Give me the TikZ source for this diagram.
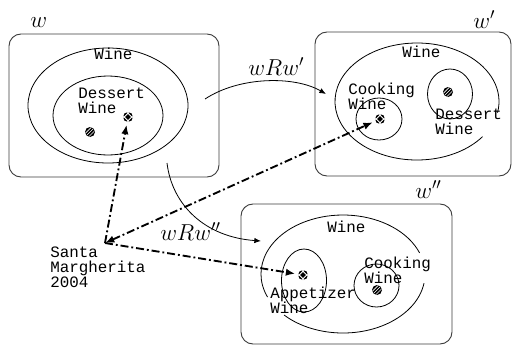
\documentclass[tikz,border=0pt]{standalone}
\usepackage{fontspec}
\setmonofont{Liberation Mono}
\usepackage{tikz}
\usetikzlibrary{arrows.meta,positioning,shapes.geometric,fit}
\definecolor{boxline}{RGB}{60,60,60}
\tikzset{
  world/.style ={draw=boxline, rounded corners=9pt, line width=0.7pt, inner sep=0pt},
  region/.style={draw, ellipse, line width=0.6pt, inner sep=0pt},
  item/.style  ={circle, fill=black, inner sep=0pt, minimum size=7.5pt},
  hatch/.style ={item, path picture={\foreach \a/\b in {-5.3/-2.7,-4/-4,-2.7/-5.3}
                   \draw[white, line width=0.5pt] ([shift={(\a pt,\b pt)}]path picture bounding box.center) -- ++(8pt,8pt);}},
  cross/.style ={item, path picture={\foreach \a/\b in {-5.4/-2.6,-2.6/-5.4}
                   \draw[white, line width=0.6pt] ([shift={(\a pt,\b pt)}]path picture bounding box.center) -- ++(8pt,8pt);
                   \foreach \a/\b in {-5.4/2.6,-2.6/5.4}
                   \draw[white, line width=0.6pt] ([shift={(\a pt,\b pt)}]path picture bounding box.center) -- ++(8pt,-8pt);}},
  lbl/.style   ={font=\fontsize{11.9}{11.25}\selectfont\ttfamily, inner sep=0pt, align=left},
  wname/.style ={font=\LARGE, inner sep=0pt, anchor=base west},
  rel/.style   ={-{Latex[length=5pt, width=4pt]}, line width=0.6pt},
  refer/.style ={-{Latex[length=7pt, width=5.5pt]}, line width=1.4pt, shorten >=2pt,
                 dash pattern=on 6pt off 2.2pt on 1.4pt off 2.2pt}
}

\begin{document}
\begin{tikzpicture}[x=0.75pt, y=-0.75pt]
  \useasboundingbox (0,0) rectangle (513,347);
  \node[world, fit={(9,34) (219,177)}] (w0) {};
  \node[world, fit={(315,32) (511,176)}] (w1) {};
  \node[world, fit={(241,204) (452,344)}] (w2) {};
  \node[wname] (lw0) at (30,27) {$w$};
  \node[wname] (lw1) at (473,28) {$w'$};
  \node[wname] (lw2) at (415,198) {$w''$};

  \node[region, minimum width=120pt, minimum height=86.25pt] (wine0) at (108,105.5) {};
  \node[region, minimum width=82.5pt, minimum height=59.25pt] (dess0) at (108,115.5) {};
  \node[lbl, anchor=base west] (twine0) at (94,59) {Wine};
  \node[lbl, anchor=north west] (tdess0) at (78,88) {Dessert\\Wine};
  \node[hatch] (h0) at (90,132) {};
  \node[cross] (c0) at (128,117) {};

  \coordinate (o1) at (417,101.5);
  \draw[line width=0.6pt] (o1) ++(37:82 and 58.5) arc[start angle=37, end angle=371, x radius=82, y radius=58.5];
  \node[region, minimum width=34.5pt, minimum height=31.5pt] (cook1) at (379,119) {};
  \node[region, minimum width=33.75pt, minimum height=37.5pt] (dess1) at (450,94) {};
  \node[lbl, anchor=base west] (twine1) at (402,57) {Wine};
  \node[lbl, anchor=north west] (tcook1) at (348,83) {Cooking\\Wine};
  \node[lbl, anchor=north west] (tdess1) at (435,109) {Dessert\\Wine};
  \node[cross] (c1) at (380,119) {};
  \node[hatch] (h1) at (448,92) {};

  \coordinate (o2) at (343,274);
  \draw[line width=0.6pt] (o2) ++(9:82 and 59) arc[start angle=9, end angle=136, x radius=82, y radius=59];
  \draw[line width=0.6pt] (o2) ++(157:82 and 59) arc[start angle=157, end angle=339, x radius=82, y radius=59];
  \node[region, minimum width=33.75pt, minimum height=47.25pt] (app2) at (304,280.5) {};
  \node[region, minimum width=33.75pt, minimum height=32.25pt] (cook2) at (376.5,285.5) {};
  \node[lbl, anchor=base west] (twine2) at (327,232) {Wine};
  \node[lbl, anchor=north west] (tcook2) at (364,257) {Cooking\\Wine};
  \node[lbl, anchor=north west] (tapp2) at (270,287) {Appetizer\\Wine};
  \node[cross] (c2) at (303,275) {};
  \node[hatch] (h2) at (377,290) {};

  \coordinate (r1a) at (205,99);
  \coordinate (r1b) at (326,94);
  \draw[rel] (r1a) .. controls (240,76) and (295,76) .. (r1b);
  \node[wname] (lr1) at (248,75) {$wRw'$};
  \coordinate (r2a) at (167,163);
  \coordinate (r2b) at (261,241);
  \draw[rel] (r2a) .. controls (172,205) and (205,237) .. (r2b);
  \node[wname] (lr2) at (160,240) {$wRw''$};

  \coordinate (sm) at (105,243);
  \node[lbl, anchor=north west] (tsm) at (50,247) {Santa\\Margherita\\2004};
  \draw[refer] (sm) -- (c0);
  \draw[refer, {Latex[length=7pt, width=5.5pt]}-{Latex[length=7pt, width=5.5pt]}] (sm) -- (c1);
  \draw[refer] (sm) -- (c2);
\end{tikzpicture}
\end{document}
